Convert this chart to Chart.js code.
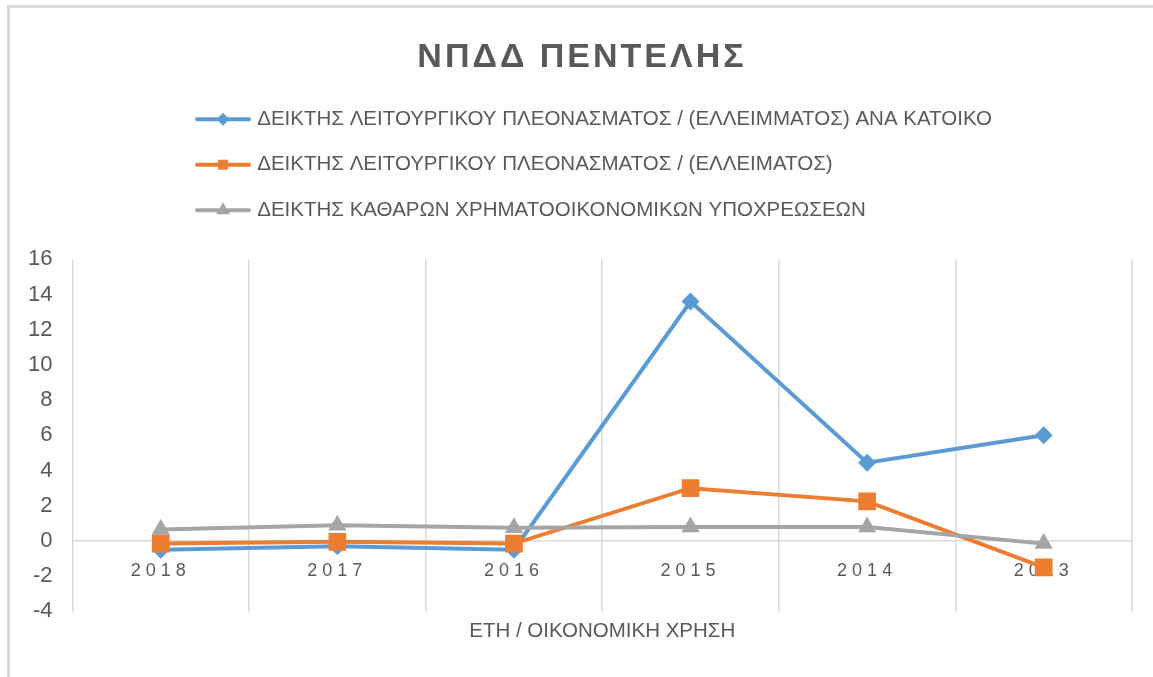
<!DOCTYPE html>
<html lang="el">
<head>
    <meta charset="UTF-8">
    <title>ΝΠΔΔ ΠΕΝΤΕΛΗΣ</title>
    <script src="https://cdn.jsdelivr.net/npm/chart.js@4.4.1/dist/chart.umd.min.js"></script>
    <style>
        html, body {
            margin: 0;
            padding: 0;
            background: #fff;
        }
        .wrap {
            position: relative;
            width: 1153px;
            height: 677px;
            overflow: hidden;
        }
        .frame {
            position: absolute;
            left: 7px;
            top: 5px;
            width: 1200px;
            height: 720px;
            border-left: 3px solid #d9d9d9;
            border-top: 3px solid #d9d9d9;
        }
        canvas {
            position: absolute;
            left: 0;
            top: 0;
        }
    </style>
</head>
<body>
<div class="wrap">
    <div class="frame"></div>
    <canvas id="chart" width="1153" height="677"></canvas>
</div>
<script>
    // values
    const years = ['2018', '2017', '2016', '2015', '2014', '2013'];
    const perResident = [-0.5, -0.3, -0.5, 13.6, 4.45, 6.0];
    const surplus = [-0.15, -0.05, -0.15, 3.0, 2.25, -1.5];
    const liabilities = [0.65, 0.9, 0.75, 0.8, 0.8, -0.15];
    const seriesNames = [
        'ΔΕΙΚΤΗΣ ΛΕΙΤΟΥΡΓΙΚΟΥ ΠΛΕΟΝΑΣΜΑΤΟΣ / (ΕΛΛΕΙΜΜΑΤΟΣ) ΑΝΑ ΚΑΤΟΙΚΟ',
        'ΔΕΙΚΤΗΣ ΛΕΙΤΟΥΡΓΙΚΟΥ ΠΛΕΟΝΑΣΜΑΤΟΣ / (ΕΛΛΕΙΜΑΤΟΣ)',
        'ΔΕΙΚΤΗΣ ΚΑΘΑΡΩΝ ΧΡΗΜΑΤΟΟΙΚΟΝΟΜΙΚΩΝ ΥΠΟΧΡΕΩΣΕΩΝ'
    ];
    const yMin = -4, yMax = 16, yStep = 2;

    const colors = ['#5b9bd5', '#ed7d31', '#a5a5a5'];
    const styles = ['rectRot', 'rect', 'triangle'];
    const radii = [9, 12.5, 10.5];
    const iconRadii = [6.5, 7, 8];
    const textColor = '#595959';
    const gridColor = '#d9d9d9';

    // legend icon: short line with the marker in the middle
    function legendIcon(color, style, r) {
        const c = document.createElement('canvas');
        c.width = 56;
        c.height = 16;
        const g = c.getContext('2d');
        g.strokeStyle = color;
        g.fillStyle = color;
        g.lineWidth = 4;
        g.lineCap = 'round';
        g.beginPath();
        g.moveTo(2, 8);
        g.lineTo(54, 8);
        g.stroke();
        Chart.helpers.drawPoint(g, {pointStyle: style, radius: r, rotation: 0, borderWidth: 0}, 28, 8);
        return c;
    }
    const icons = colors.map((c, i) => legendIcon(c, styles[i], iconRadii[i]));

    // canvas letter spacing (and a small shift) on a drawing method
    function spaced(obj, method, px, dx) {
        if (obj[method].isSpaced) return;
        const orig = obj[method];
        const fn = function (...args) {
            const c = this.ctx;
            c.save();
            c.letterSpacing = px;
            c.translate(dx || 0, 0);
            orig.apply(this, args);
            c.restore();
        };
        fn.isSpaced = true;
        obj[method] = fn;
    }

    const tweaks = {
        id: 'tweaks',
        afterInit(chart) {
            spaced(chart.titleBlock, 'draw', '3px', 12);
        },
        afterLayout(chart) {
            spaced(chart.scales.x, 'drawLabels', '5px');
            // legend rows left aligned under the title
            const lg = chart.legend;
            const pad = lg.options.labels.padding;
            lg.left = 199 - pad;
            lg.top = 84;
        }
    };

    const datasets = [perResident, surplus, liabilities].map((values, i) => ({
        label: seriesNames[i],
        data: values,
        borderColor: colors[i],
        backgroundColor: colors[i],
        borderWidth: 4,
        pointStyle: styles[i],
        pointRadius: radii[i],
        pointBorderWidth: 0,
        pointBackgroundColor: colors[i],
        tension: 0,
        order: 3 - i
    }));

    new Chart(document.getElementById('chart').getContext('2d'), {
        type: 'line',
        data: {labels: years, datasets: datasets},
        options: {
            responsive: false,
            animation: false,
            layout: {padding: {top: 10, left: 8, right: 21, bottom: 0}},
            plugins: {
                tooltip: {enabled: false},
                title: {
                    display: true,
                    text: 'ΝΠΔΔ ΠΕΝΤΕΛΗΣ',
                    color: textColor,
                    font: {family: "'Liberation Sans', sans-serif", size: 34, weight: 'bold', lineHeight: 1.2},
                    padding: {top: 27, bottom: 35}
                },
                legend: {
                    position: 'top',
                    align: 'start',
                    labels: {
                        usePointStyle: true,
                        pointStyleWidth: 48,
                        padding: 25,
                        color: textColor,
                        font: {family: "'Liberation Sans', sans-serif", size: 20.5},
                        generateLabels(chart) {
                            return chart.data.datasets.map((ds, i) => ({
                                text: ds.label,
                                datasetIndex: i,
                                pointStyle: icons[i],
                                fillStyle: ds.borderColor,
                                strokeStyle: ds.borderColor,
                                fontColor: textColor,
                                lineWidth: 0,
                                hidden: false
                            }));
                        }
                    }
                }
            },
            scales: {
                x: {
                    type: 'category',
                    position: {y: 0},
                    offset: true,
                    grid: {offset: true, color: gridColor, lineWidth: 1.5, drawTicks: false},
                    border: {display: true, color: gridColor, width: 1.5},
                    ticks: {color: textColor, padding: 19, font: {family: "'Liberation Sans', sans-serif", size: 18}}
                },
                x2: {
                    type: 'category',
                    position: 'bottom',
                    grid: {display: false, drawTicks: false},
                    border: {display: false},
                    ticks: {display: false},
                    title: {
                        display: true,
                        text: 'ΕΤΗ / ΟΙΚΟΝΟΜΙΚΗ ΧΡΗΣΗ',
                        color: textColor,
                        font: {family: "'Liberation Sans', sans-serif", size: 20.5, lineHeight: 1.2},
                        padding: {top: 8, bottom: 33}
                    }
                },
                y: {
                    min: yMin,
                    max: yMax,
                    grid: {display: false, drawTicks: false},
                    border: {display: false},
                    ticks: {stepSize: yStep, color: textColor, padding: 20, font: {family: "'Liberation Sans', sans-serif", size: 22}}
                }
            }
        },
        plugins: [tweaks]
    });
</script>
</body>
</html>
